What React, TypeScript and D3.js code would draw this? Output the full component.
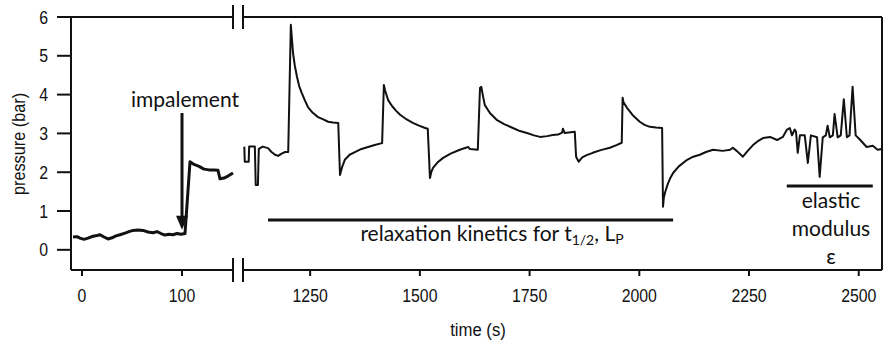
import { useEffect, useRef } from 'react';
import * as d3 from 'd3';

// left segment (0 - 150 s), before the axis break
const leftTime = [-9, -5, -2, 2, 6, 11, 15, 18, 22, 26, 30, 34, 38, 43, 47, 51, 56, 61, 66, 71, 75, 79, 83, 87, 91, 95, 99, 103, 108, 112, 117, 122, 127, 132, 136, 138, 142, 146, 151];
const leftPressure = [0.33, 0.34, 0.3, 0.27, 0.3, 0.35, 0.37, 0.39, 0.33, 0.28, 0.31, 0.36, 0.39, 0.43, 0.47, 0.5, 0.51, 0.5, 0.46, 0.44, 0.47, 0.42, 0.38, 0.4, 0.39, 0.42, 0.4, 0.42, 2.27, 2.2, 2.15, 2.08, 2.06, 2.06, 2.05, 1.83, 1.85, 1.9, 1.98];

// right segment (1100 - 2550 s), after the axis break
const rightTime = [
    1100, 1101, 1110, 1111, 1124, 1126, 1131, 1133, 1142, 1154, 1162, 1170, 1177, 1185, 1193, 1200,
    1206, 1208, 1211, 1215, 1220, 1225, 1231, 1238, 1245, 1256, 1268, 1280, 1291, 1302, 1314,
    1318, 1323, 1329, 1340, 1352, 1367, 1382, 1397, 1414,
    1418, 1421, 1428, 1437, 1446, 1455, 1470, 1484, 1498, 1512, 1518,
    1523, 1526, 1530, 1540, 1553, 1570, 1591, 1610, 1614, 1632,
    1637, 1640, 1644, 1648, 1660, 1675, 1692, 1712, 1728, 1744, 1760, 1774, 1790, 1803, 1815, 1824, 1826, 1830, 1853,
    1856, 1862, 1870, 1880, 1894, 1912, 1933, 1948, 1960,
    1962, 1964, 1972, 1985, 2001, 2012, 2024, 2038, 2052,
    2054, 2056, 2059, 2065, 2071, 2077, 2090, 2109, 2123, 2138, 2152, 2168, 2190, 2207, 2213, 2222, 2236, 2247, 2259, 2270, 2282, 2298, 2314, 2327, 2336, 2343, 2348, 2354,
    2357, 2361, 2366, 2377, 2384, 2391, 2405, 2411, 2418, 2425, 2429, 2434, 2441, 2445, 2452, 2459, 2466, 2473, 2479, 2486, 2493, 2502, 2518, 2532, 2543, 2553,
];
const rightPressure = [
    2.66, 2.27, 2.27, 2.66, 2.66, 1.67, 1.67, 2.6, 2.66, 2.62, 2.52, 2.45, 2.42, 2.48, 2.52, 2.52,
    5.8, 5.5, 5.07, 4.75, 4.46, 4.22, 4.04, 3.85, 3.68, 3.53, 3.42, 3.36, 3.3, 3.28, 3.27,
    1.93, 2.14, 2.32, 2.45, 2.52, 2.6, 2.65, 2.7, 2.75,
    4.25, 4.1, 3.85, 3.7, 3.58, 3.48, 3.36, 3.27, 3.2, 3.14, 3.12,
    1.85, 2.0, 2.11, 2.25, 2.37, 2.48, 2.58, 2.65, 2.6, 2.58,
    4.17, 4.2, 3.95, 3.73, 3.52, 3.35, 3.24, 3.14, 3.06, 3.01, 2.95, 2.91, 2.93, 2.96, 2.97, 3.02, 3.12, 3.01, 3.04,
    2.4, 2.27, 2.38, 2.44, 2.5, 2.57, 2.63, 2.7, 2.76,
    3.92, 3.8, 3.66, 3.47, 3.3, 3.22, 3.17, 3.15, 3.14,
    1.11, 1.35, 1.49, 1.7, 1.86, 1.98, 2.15, 2.32, 2.4, 2.45, 2.52, 2.58, 2.55, 2.58, 2.63, 2.55, 2.4, 2.55, 2.7, 2.8, 2.88, 2.91, 2.83, 2.91, 3.09, 3.14, 2.95, 3.1,
    3.05, 2.5, 2.95, 2.95, 2.24, 2.95, 2.9, 1.88, 2.9, 2.95, 3.2, 2.9, 2.95, 3.5, 2.9, 2.95, 3.88, 2.9, 2.95, 4.2, 2.95, 2.85, 2.65, 2.68, 2.58, 2.6,
];

const yTicks = [0, 1, 2, 3, 4, 5, 6];
const leftTicks = [0, 100];
const rightTicks = [1250, 1500, 1750, 2000, 2250, 2500];

const axisFont = '"Liberation Sans", Arial, sans-serif';
const noteFont = 'Lato, "Open Sans", sans-serif';

export default function App() {
    const svgRef = useRef<SVGSVGElement>(null);

    useEffect(() => {
        if (!svgRef.current) return;
        const svg = d3.select(svgRef.current);
        svg.selectAll('*').remove();

        // Scales: broken x axis
        const xLeft = d3.scaleLinear().domain([-11, 151]).range([71, 233]);
        const xRight = d3.scaleLinear().domain([1097, 2553]).range([243, 882]);
        const y = d3.scaleLinear().domain([-0.52, 6]).range([270, 17]);
        const top = y(6);
        const bottom = y(-0.52);

        const ink = '#111';

        // Frame
        const frame = svg.append('g').attr('stroke', ink).attr('stroke-width', 2).attr('fill', 'none');
        frame.append('line').attr('x1', 71).attr('x2', 71).attr('y1', top).attr('y2', bottom);
        frame.append('line').attr('x1', 882).attr('x2', 882).attr('y1', top).attr('y2', bottom);
        [top, bottom].forEach(yy => {
            frame.append('line').attr('x1', 71).attr('x2', 233).attr('y1', yy).attr('y2', yy);
            frame.append('line').attr('x1', 243).attr('x2', 882).attr('y1', yy).attr('y2', yy);
            // break marks
            [233, 243].forEach(bx => {
                frame.append('line').attr('x1', bx).attr('x2', bx).attr('y1', yy - 12).attr('y2', yy + 12);
            });
        });

        // condensed axis text (narrow sans look)
        const axisText = (g: d3.Selection<any, any, any, any>, x: number, yy: number, s: string, size: number, anchor: string, rot = 0) =>
            g.append('text')
                .attr('transform', `translate(${x},${yy}) rotate(${rot}) scale(0.88,1)`)
                .attr('text-anchor', anchor)
                .style('font-family', axisFont)
                .style('font-size', `${size}px`)
                .attr('fill', ink)
                .text(s);

        // Y ticks
        const yg = svg.append('g');
        yTicks.forEach(t => {
            frame.append('line').attr('x1', 57).attr('x2', 71).attr('y1', y(t)).attr('y2', y(t));
            axisText(yg, 48, y(t) + 6.5, String(t), 18, 'end');
        });

        // X ticks
        const xTickData = [
            ...leftTicks.map(t => ({ label: String(t), x: xLeft(t) })),
            ...rightTicks.map(t => ({ label: String(t), x: xRight(t) })),
        ];
        const xg = svg.append('g');
        xTickData.forEach(d => {
            frame.append('line').attr('x1', d.x).attr('x2', d.x).attr('y1', bottom).attr('y2', bottom + 6);
            axisText(xg, d.x, 302, d.label, 18, 'middle');
        });

        // Axis titles
        axisText(svg, 478, 336, 'time (s)', 19, 'middle');
        axisText(svg, 25, 144, 'pressure (bar)', 18.5, 'middle', -90);

        // Data lines
        const leftData = leftTime.map((t, i) => [t, leftPressure[i]] as [number, number]);
        const rightData = rightTime.map((t, i) => [t, rightPressure[i]] as [number, number]);

        svg.append('path')
            .datum(leftData)
            .attr('fill', 'none')
            .attr('stroke', ink)
            .attr('stroke-width', 3)
            .attr('stroke-linejoin', 'round')
            .attr('d', d3.line<[number, number]>().x(d => xLeft(d[0])).y(d => y(d[1])));

        svg.append('path')
            .datum(rightData)
            .attr('fill', 'none')
            .attr('stroke', ink)
            .attr('stroke-width', 2)
            .attr('stroke-linejoin', 'round')
            .attr('d', d3.line<[number, number]>().x(d => xRight(d[0])).y(d => y(d[1])));

        // Annotations
        const ax = xLeft(100);
        svg.append('line')
            .attr('x1', ax).attr('x2', ax)
            .attr('y1', 113).attr('y2', y(0.52) - 12)
            .attr('stroke', ink).attr('stroke-width', 3);
        svg.append('path')
            .attr('d', `M${ax - 6},${y(0.52) - 14} L${ax + 6},${y(0.52) - 14} L${ax},${y(0.52)} Z`)
            .attr('fill', ink);
        svg.append('text')
            .attr('x', 185)
            .attr('y', 107)
            .attr('text-anchor', 'middle')
            .style('font-family', noteFont)
            .style('font-size', '21px')
            .attr('fill', ink)
            .text('impalement');

        svg.append('line')
            .attr('x1', xRight(1154)).attr('x2', xRight(2077))
            .attr('y1', 220).attr('y2', 220)
            .attr('stroke', ink).attr('stroke-width', 3);
        const rel = svg.append('text')
            .attr('x', 492)
            .attr('y', 241)
            .attr('text-anchor', 'middle')
            .style('font-family', noteFont)
            .style('font-size', '21px')
            .attr('fill', ink);
        rel.append('tspan').text('relaxation kinetics for t');
        rel.append('tspan').attr('dy', 4).style('font-size', '14px').text('1/2');
        rel.append('tspan').attr('dy', -4).text(', L');
        rel.append('tspan').attr('dy', 3).style('font-size', '14px').text('P');

        svg.append('line')
            .attr('x1', xRight(2336)).attr('x2', xRight(2532))
            .attr('y1', 186).attr('y2', 186)
            .attr('stroke', ink).attr('stroke-width', 3);
        ['elastic', 'modulus', 'ε'].forEach((s, i) => {
            svg.append('text')
                .attr('x', 831)
                .attr('y', 208 + i * 28)
                .attr('text-anchor', 'middle')
                .style('font-family', noteFont)
                .style('font-size', '21px')
                .attr('fill', ink)
                .text(s);
        });
    }, []);

    return (
        <div style={{ position: 'absolute', left: 0, top: 0, width: 884, height: 343, background: '#fff' }}>
            <svg ref={svgRef} width={884} height={343} />
        </div>
    );
}
